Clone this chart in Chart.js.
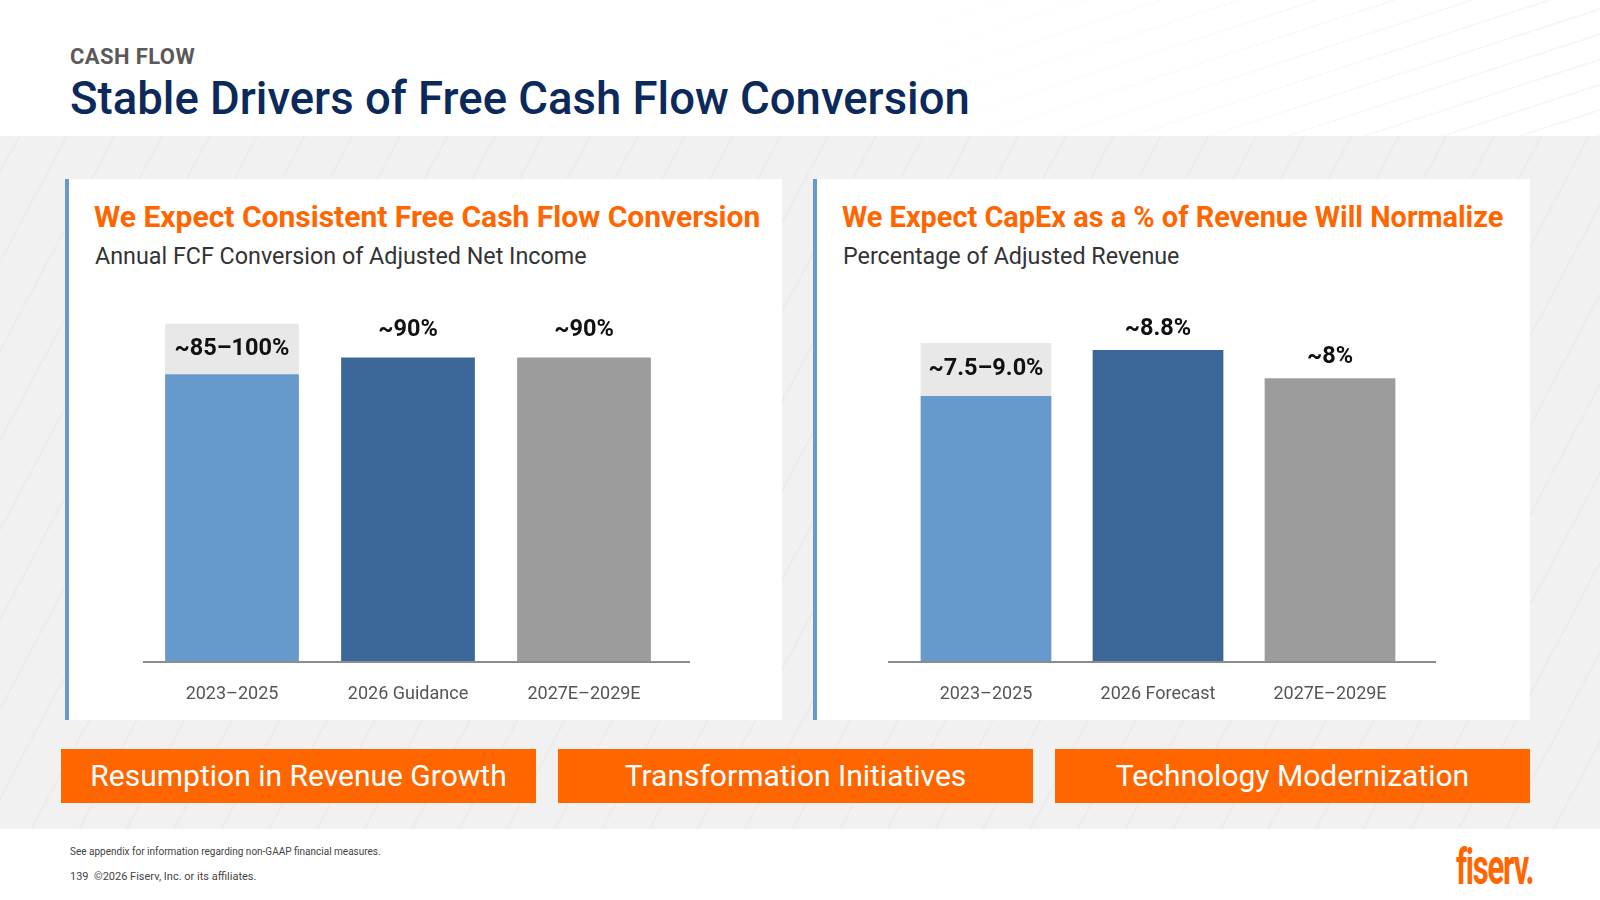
<!DOCTYPE html>
<html>
<head>
<meta charset="utf-8">
<script src="https://cdn.jsdelivr.net/npm/chart.js@4.4.1/dist/chart.umd.min.js"></script>
<style>
  body { margin: 0; width: 1600px; height: 900px; position: relative; overflow: hidden; background: #fff; font-family: Roboto, sans-serif; }
  .abs { position: absolute; white-space: nowrap; }
  .hdr { left: 0; top: 0; width: 1600px; height: 136px;
    background: repeating-linear-gradient(162deg, #fff 0 22px, #f7f7f7 22px 24px); }
  .hdrfade { left: 0; top: 0; width: 1600px; height: 136px; background: linear-gradient(90deg, #fff 55%, rgba(255,255,255,0) 100%); }
  .band { left: 0; top: 136px; width: 1600px; height: 693px;
    background: repeating-linear-gradient(-62deg, #f1f1f1 0 40px, #ececec 40px 42px); }
  .kicker { left: 70px; top: 44px; font-size: 22px; font-weight: 700; color: #5a5a5a; letter-spacing: 0.4px; }
  .title { left: 70px; top: 72px; font-size: 45.5px; font-weight: 500; color: #0b2a5b; }
  .panel { top: 179px; width: 713px; height: 541px; background: #fff; border-left: 4px solid #6699cc; }
  .ptitle { font-size: 30px; font-weight: 700; color: #ff6600; }
  .psub { font-size: 23.3px; color: #333; }
  .pill { top: 749px; width: 475px; height: 54px; background: #ff6600; color: #fff; font-size: 30px; line-height: 54px; text-align: center; }
  .note { left: 70px; font-size: 10px; color: #444; }
  .logo { left: 1456px; top: 838px; font-size: 50px; font-weight: 700; color: #ff6600; font-family: "Liberation Sans Narrow", Roboto, sans-serif; transform: scaleX(0.62); transform-origin: left top; letter-spacing: -2px; }
  canvas { position: absolute; }
</style>
</head>
<body>
<div class="abs hdr"></div>
<div class="abs hdrfade"></div>
<div class="abs band"></div>
<div class="abs kicker">CASH FLOW</div>
<div class="abs title">Stable Drivers of Free Cash Flow Conversion</div>

<div class="abs panel" style="left:65px"></div>
<div class="abs panel" style="left:813px"></div>
<div class="abs ptitle" style="left:94px; top:199px">We Expect Consistent Free Cash Flow Conversion</div>
<div class="abs psub" style="left:95px; top:242px">Annual FCF Conversion of Adjusted Net Income</div>
<div class="abs ptitle" style="left:842px; top:200px; font-size:28.9px">We Expect CapEx as a % of Revenue Will Normalize</div>
<div class="abs psub" style="left:843px; top:242px">Percentage of Adjusted Revenue</div>

<canvas id="leftChart" width="717" height="440" style="left:65px; top:280px"></canvas>
<canvas id="rightChart" width="717" height="440" style="left:813px; top:280px"></canvas>

<div class="abs pill" style="left:61px">Resumption in Revenue Growth</div>
<div class="abs pill" style="left:558px">Transformation Initiatives</div>
<div class="abs pill" style="left:1055px">Technology Modernization</div>

<div class="abs note" style="top:846px">See appendix for information regarding non-GAAP financial measures.</div>
<div class="abs note" style="top:870px; font-size:11px">139&nbsp; ©2026 Fiserv, Inc. or its affiliates.</div>
<div class="abs logo">fiserv.</div>

<script>
// left panel: FCF conversion of adjusted net income (%)
const leftCategories = ['2023–2025', '2026 Guidance', '2027E–2029E'];
const leftBase = [85, 90, 90];
const leftRange = [15, 0, 0];      // 85 -> 100 shown as the grey box
const leftLabels = ['~85–100%', '~90%', '~90%'];

// right panel: CapEx as % of adjusted revenue
const rightCategories = ['2023–2025', '2026 Forecast', '2027E–2029E'];
const rightBase = [7.5, 8.8, 8.0];
const rightRange = [1.5, 0, 0];    // 7.5 -> 9.0
const rightLabels = ['~7.5–9.0%', '~8.8%', '~8%'];

const barColors = ['#6699cc', '#3b6898', '#9c9c9c'];
const rangeColor = '#e8e8e8';

Chart.defaults.font.family = 'Roboto, sans-serif';

const valueLabels = {
  id: 'valueLabels',
  afterDatasetsDraw(chart, args, opts) {
    const ctx = chart.ctx;
    const base = chart.getDatasetMeta(0).data;
    const range = chart.getDatasetMeta(1).data;
    const rangeVals = chart.data.datasets[1].data;
    ctx.save();
    ctx.font = 'bold 23.5px Roboto, sans-serif';
    ctx.fillStyle = '#111';
    ctx.textAlign = 'center';
    ctx.textBaseline = 'middle';
    opts.labels.forEach((txt, i) => {
      const y = rangeVals[i] > 0 ? (range[i].y + range[i].base) / 2 : base[i].y - opts.gap;
      ctx.fillText(txt, base[i].x, y);
    });
    ctx.restore();
  }
};

const baseline = {
  id: 'baseline',
  afterDatasetsDraw(chart, args, opts) {
    const { ctx, chartArea } = chart;
    const y = chart.scales.y.getPixelForValue(0) + 1;
    ctx.save();
    ctx.strokeStyle = '#8c8c8c';
    ctx.lineWidth = 2;
    ctx.beginPath();
    ctx.moveTo(chartArea.left - opts.extendLeft, y);
    ctx.lineTo(chartArea.right + opts.extendRight, y);
    ctx.stroke();
    ctx.restore();
  }
};

function makeChart(id, cats, base, range, labels, yMax, gap, pad, ext) {
  return new Chart(document.getElementById(id), {
    type: 'bar',
    data: {
      labels: cats,
      datasets: [
        { data: base, backgroundColor: barColors, barPercentage: 0.76, categoryPercentage: 1 },
        { data: range, backgroundColor: rangeColor, barPercentage: 0.76, categoryPercentage: 1 }
      ]
    },
    options: {
      responsive: false,
      animation: false,
      layout: { padding: pad },
      plugins: {
        legend: { display: false },
        tooltip: { enabled: false },
        valueLabels: { labels: labels, gap: gap },
        baseline: ext
      },
      scales: {
        x: {
          stacked: true,
          grid: { display: false, drawTicks: false },
          border: { display: false },
          ticks: { color: '#555', font: { size: 18 }, padding: 23 },
          afterFit(scale) { scale.height = 59; }
        },
        y: { stacked: true, display: false, min: 0, max: yMax }
      }
    },
    plugins: [valueLabels, baseline]
  });
}

makeChart('leftChart', leftCategories, leftBase, leftRange, leftLabels, 110, 27,
  { left: 79, right: 110, top: 10, bottom: 0 }, { extendLeft: 1, extendRight: 18 });
makeChart('rightChart', rightCategories, rightBase, rightRange, rightLabels, 10.5, 21,
  { left: 87, right: 114, top: 10, bottom: 0 }, { extendLeft: 12, extendRight: 20 });
</script>
</body>
</html>
